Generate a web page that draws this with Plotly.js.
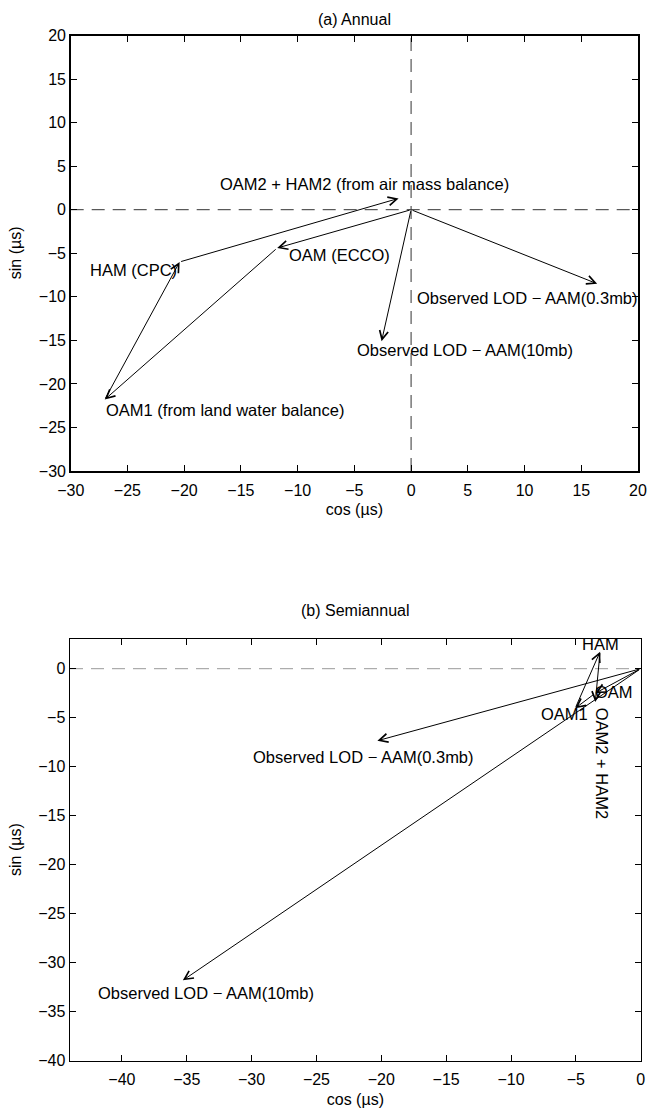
<!DOCTYPE html>
<html><head><meta charset="utf-8">
<script src="https://cdn.plot.ly/plotly-3.0.1.min.js"></script>
<style>html,body{margin:0;padding:0;background:#fff}</style>
</head><body><div id="chart" style="width:649px;height:1114px"></div>
<script>
// ---------- (a) Annual ----------
const annualNames = ['OAM (ECCO)', 'OAM1 (from land water balance)', 'HAM (CPC)',
  'OAM2 + HAM2 (from air mass balance)', 'Observed LOD \u2212 AAM(10mb)', 'Observed LOD \u2212 AAM(0.3mb)'];
const annualTailX = [0, -11.8, -27.0, -20.4, 0, 0];
const annualTailY = [0, -4.4, -21.8, -6.0, 0, 0];
const annualHeadX = [-11.8, -27.0, -20.4, -1.1, -2.6, 16.4];
const annualHeadY = [-4.4, -21.8, -6.0, 1.3, -15.1, -8.5];
const annualLabelX = [-10.96, -27.07, -28.5, -16.99, -4.94, 0.35];
const annualLabelY = [-5.2, -23.04, -6.97, 2.97, -16.1, -10.14];
const annualTicks = [-30, -25, -20, -15, -10, -5, 0, 5, 10, 15, 20];

// ---------- (b) Semiannual ----------
const semiNames = ['OAM', 'OAM1', 'HAM', 'OAM2 + HAM2',
  'Observed LOD \u2212 AAM(0.3mb)', 'Observed LOD \u2212 AAM(10mb)'];
const semiTailX = [0, -3.5, -5.05, -3.13, 0, 0];
const semiTailY = [0, -2.5, -4.04, 1.74, 0, 0];
const semiHeadX = [-3.5, -5.05, -3.13, -3.5, -20.3, -35.3];
const semiHeadY = [-2.5, -4.04, 1.74, -3.4, -7.35, -31.8];
const semiLabelX = [-2.05, -5.9, -3.13, -2.98, -21.4, -33.5];
const semiLabelY = [-2.4, -4.6, 2.5, -9.6, -9.04, -33.1];
const semiLabelAngle = [0, 0, 0, 90, 0, 0];
const semiXTicks = [-40, -35, -30, -25, -20, -15, -10, -5, 0];
const semiYTicks = [-40, -35, -30, -25, -20, -15, -10, -5, 0];

const FONT = 'Liberation Sans, Arial, Helvetica, sans-serif';
const W = 649, H = 1114;
const fx = p => p / W;
const fy = p => 1 - p / H;

// pixel boxes of the two panels
const boxA = {l: 70.7, r: 638, t: 35.5, b: 471};
const boxB = {l: 70, r: 640.7, t: 639.3, b: 1060.7};

function arrow(xr, yr, tx, ty, hx, hy) {
  return {xref: xr, yref: yr, axref: xr, ayref: yr, x: hx, y: hy, ax: tx, ay: ty,
    text: '', showarrow: true, arrowhead: 5, arrowsize: 1.7, arrowwidth: 1,
    arrowcolor: '#000', standoff: 0, startstandoff: 0};
}
function label(xr, yr, x, y, t, anchor, angle) {
  return {xref: xr, yref: yr, x: x, y: y, text: t, showarrow: false,
    xanchor: anchor, yanchor: 'middle', textangle: angle || 0,
    font: {family: FONT, size: 16.5, color: '#000'}};
}
function paperText(x, y, t, angle) {
  return {xref: 'paper', yref: 'paper', x: fx(x), y: fy(y), text: t, showarrow: false,
    xanchor: 'center', yanchor: 'middle', textangle: angle || 0,
    font: {family: FONT, size: 16, color: '#000'}};
}

const annotations = [];
for (let i = 0; i < annualNames.length; i++) {
  annotations.push(arrow('x', 'y', annualTailX[i], annualTailY[i], annualHeadX[i], annualHeadY[i]));
  annotations.push(label('x', 'y', annualLabelX[i], annualLabelY[i], annualNames[i], 'left', 0));
}
for (let i = 0; i < semiNames.length; i++) {
  annotations.push(arrow('x2', 'y2', semiTailX[i], semiTailY[i], semiHeadX[i], semiHeadY[i]));
  annotations.push(label('x2', 'y2', semiLabelX[i], semiLabelY[i], semiNames[i], 'center', semiLabelAngle[i]));
}
annotations.push(paperText((boxA.l + boxA.r) / 2, 20, '(a) Annual'));
annotations.push(paperText((boxB.l + boxB.r) / 2, 610, '(b) Semiannual'));
annotations.push(paperText(15, (boxA.t + boxA.b) / 2, 'sin (\u00b5s)', -90));
annotations.push(paperText(15, (boxB.t + boxB.b) / 2, 'sin (\u00b5s)', -90));

const axBase = {showgrid: false, zeroline: false, showline: true, linecolor: '#000', linewidth: 1.5,
  mirror: 'ticks', ticks: 'inside', ticklen: 6, tickwidth: 1, tickcolor: '#000',
  tickfont: {family: FONT, size: 16, color: '#000'}, fixedrange: true};
const ySuffix = '\u2002\u2009';

const layout = {
  width: W, height: H, margin: {l: 0, r: 0, t: 0, b: 0},
  paper_bgcolor: '#fff', plot_bgcolor: '#fff', showlegend: false,
  font: {family: FONT, size: 16, color: '#000'},
  xaxis: Object.assign({}, axBase, {domain: [fx(boxA.l), fx(boxA.r)], range: [-30, 20], anchor: 'y',
    tickvals: annualTicks, ticklabelstandoff: 4,
    title: {text: 'cos (\u00b5s)', font: {family: FONT, size: 16}, standoff: 6}}),
  yaxis: Object.assign({}, axBase, {domain: [fy(boxA.b), fy(boxA.t)], range: [-30, 20], anchor: 'x',
    tickvals: annualTicks, ticksuffix: ySuffix}),
  xaxis2: Object.assign({}, axBase, {domain: [fx(boxB.l), fx(boxB.r)], range: [-44, 0], anchor: 'y2',
    tickvals: semiXTicks, ticklabelstandoff: 4,
    title: {text: 'cos (\u00b5s)', font: {family: FONT, size: 16}, standoff: 6}}),
  yaxis2: Object.assign({}, axBase, {domain: [fy(boxB.b), fy(boxB.t)], range: [-40, 3], anchor: 'x2',
    tickvals: semiYTicks, ticksuffix: ySuffix}),
  shapes: [
    {type: 'line', xref: 'x domain', x0: 0, x1: 1, yref: 'y', y0: 0, y1: 0,
      line: {color: '#333', width: 1, dash: '13px,8px'}, layer: 'below'},
    {type: 'line', xref: 'x', x0: 0, x1: 0, yref: 'y domain', y0: 0, y1: 1,
      line: {color: '#333', width: 1, dash: '13px,8px'}, layer: 'below'},
    {type: 'line', xref: 'x2 domain', x0: 0, x1: 1, yref: 'y2', y0: 0, y1: 0,
      line: {color: '#999', width: 1, dash: '13px,8px'}, layer: 'below'}
  ],
  annotations: annotations
};

const traces = [
  {type: 'scatter', x: [], y: [], xaxis: 'x', yaxis: 'y', hoverinfo: 'skip'},
  {type: 'scatter', x: [], y: [], xaxis: 'x2', yaxis: 'y2', hoverinfo: 'skip'}
];
Plotly.newPlot('chart', traces, layout, {displayModeBar: false, staticPlot: true});
</script></body></html>
